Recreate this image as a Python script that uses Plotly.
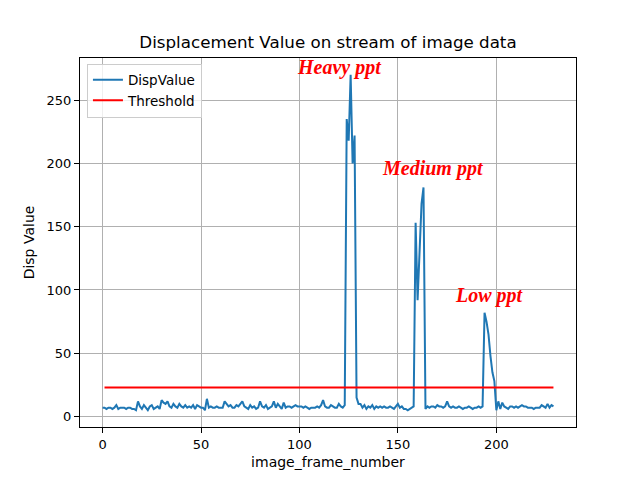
import plotly.graph_objects as go

# displacement value per image frame (frames 0..229)
disp_values = [
    7, 7, 6, 7, 7, 6, 7, 9, 6, 7,
    7, 7, 6, 7, 7, 6, 6, 5, 12, 8,
    6, 9, 7, 5, 8, 9, 6, 7, 8, 6,
    13, 11, 10, 12, 8, 7, 10, 8, 7, 10,
    8, 7, 9, 7, 8, 7, 9, 6, 9, 8,
    7, 7, 5, 14, 7, 8, 7, 7, 8, 7,
    7, 7, 12, 10, 8, 9, 7, 7, 9, 8,
    10, 12, 8, 7, 6, 9, 7, 8, 6, 7,
    12, 8, 7, 9, 6, 7, 8, 12, 7, 10,
    8, 6, 11, 7, 8, 8, 7, 8, 9, 8,
    8, 8, 7, 8, 7, 6, 7, 7, 7, 8,
    7, 9, 13, 8, 7, 7, 9, 8, 7, 7,
    10, 8, 7, 9, 235, 218, 270, 200, 222, 15,
    10, 10, 7, 9, 6, 8, 7, 9, 6, 8,
    7, 8, 7, 8, 7, 7, 8, 7, 6, 8,
    10, 7, 8, 6, 6, 5, 6, 7, 8, 153,
    92, 130, 168, 181, 6, 8, 7, 8, 8, 7,
    9, 8, 8, 7, 8, 12, 8, 7, 8, 7,
    7, 8, 7, 6, 7, 7, 8, 7, 6, 7,
    7, 8, 7, 8, 82, 75, 65, 48, 35, 28,
    5, 12, 6, 11, 8, 7, 6, 8, 8, 7,
    8, 7, 8, 9, 8, 8, 7, 7, 7, 6,
    7, 7, 7, 9, 8, 7, 10, 7, 9, 8,
]
frames = list(range(len(disp_values)))

threshold_x = [1, 229]
threshold_y = [23, 23]

labels = ["Heavy ppt", "Medium ppt", "Low ppt"]
label_x = [100, 143, 180]
label_y = [270, 190, 90]

fig = go.Figure()
fig.add_trace(go.Scatter(x=frames, y=disp_values, mode="lines", name="DispValue",
                         line=dict(color="#1f77b4", width=2)))
fig.add_trace(go.Scatter(x=threshold_x, y=threshold_y, mode="lines", name="Threshold",
                         line=dict(color="red", width=2)))

for txt, lx, ly in zip(labels, label_x, label_y):
    fig.add_annotation(x=lx, y=ly, text=txt, showarrow=False,
                       xanchor="left", yanchor="bottom", xshift=-4, yshift=-6,
                       font=dict(family="Liberation Serif", size=20, color="red",
                                 weight="bold", style="italic"))

axis_style = dict(showline=True, linecolor="black", linewidth=1, mirror=True,
                  ticks="outside", ticklen=5, tickcolor="black",
                  showgrid=True, gridcolor="#b0b0b0", gridwidth=0.8,
                  zeroline=False, tickfont=dict(size=13))

fig.update_xaxes(range=[-11.45, 240.45], tickvals=[0, 50, 100, 150, 200, 250],
                 title=dict(text="image_frame_number", font=dict(size=14), standoff=6),
                 **axis_style)
fig.update_yaxes(range=[-8.25, 283.25], tickvals=[0, 50, 100, 150, 200, 250],
                 title=dict(text="Disp Value", font=dict(size=14), standoff=8),
                 **axis_style)

# page has an 8px body margin, so the figure is sized/offset to compensate
fig.update_layout(
    width=632, height=472,
    margin=dict(l=72, r=64, t=50, b=53),
    paper_bgcolor="white", plot_bgcolor="white",
    font=dict(family="DejaVu Sans", color="black"),
    title=dict(text="Displacement Value on stream of image data", x=0.5, xanchor="center",
               xref="paper", y=0.927, yanchor="middle", font=dict(size=16.7)),
    legend=dict(x=0.014, y=0.985, xanchor="left", yanchor="top",
                bgcolor="rgba(255,255,255,0.8)", bordercolor="#cccccc", borderwidth=1,
                font=dict(size=13.5), tracegroupgap=0, itemwidth=30),
    showlegend=True,
)

fig.write_html("out.html")
